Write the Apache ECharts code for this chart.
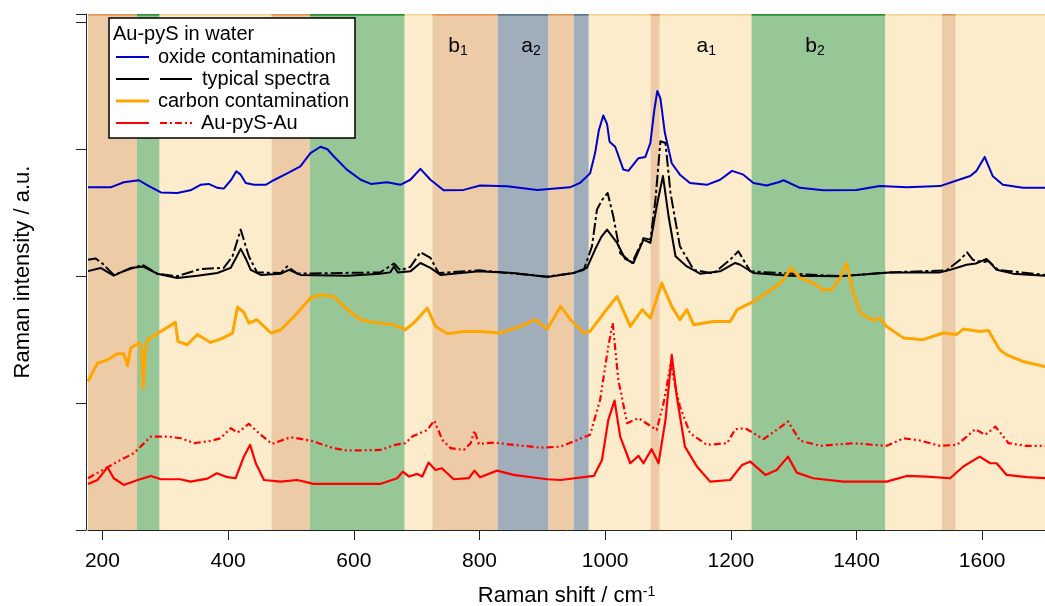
<!DOCTYPE html>
<html>
<head>
<meta charset="utf-8">
<title>Au-pyS in water</title>
<script src="https://cdn.jsdelivr.net/npm/echarts@6/dist/echarts.min.js"></script>
<style>
  html, body { margin: 0; padding: 0; background: #fff; }
  #main { width: 1045px; height: 606px; }
</style>
</head>
<body>
<div id="main"></div>
<script>
// band edges (cm-1) and band kind
var bandEdges = [177, 255, 291, 469, 530, 681, 725, 829, 910, 950, 974, 1072, 1087, 1233, 1446, 1536, 1558, 1700];
var bandKinds = ['tan', 'green', 'cream', 'tan', 'green', 'cream', 'tan', 'gray', 'tan', 'gray', 'cream', 'tan', 'cream', 'green', 'cream', 'tan', 'cream'];

// band labels
var bandLabelMain = ['b', 'a', 'a', 'b'];
var bandLabelSub = ['1', '2', '1', '2'];
var bandLabelX = [766, 882, 1161, 1334];
var bandLabelY = 3.81;

var xTicks = [200, 400, 600, 800, 1000, 1200, 1400, 1600];

// spectra, [raman shift, intensity]
var oxide = [[177,2.70],[195,2.70],[213,2.70],[234,2.74],[258,2.756],[274,2.71],[293,2.66],[319,2.656],[340,2.677],[356,2.72],[369,2.727],[383,2.696],[393,2.69],[405,2.76],[413,2.827],[420,2.80],[428,2.735],[441,2.72],[460,2.72],[470,2.75],[494,2.81],[515,2.866],[531,2.97],[547,3.02],[558,3.00],[568,2.945],[589,2.84],[611,2.76],[627,2.727],[653,2.74],[674,2.72],[690,2.76],[706,2.846],[722,2.76],[743,2.677],[775,2.68],[801,2.714],[844,2.709],[892,2.68],[944,2.70],[960,2.735],[976,2.81],[984,2.97],[990,3.15],[997,3.266],[1003,3.20],[1007,3.06],[1016,3.02],[1029,2.84],[1037,2.83],[1053,2.93],[1064,2.94],[1072,3.05],[1078,3.30],[1083,3.46],[1088,3.40],[1095,3.13],[1106,2.89],[1119,2.80],[1135,2.735],[1162,2.72],[1183,2.76],[1202,2.83],[1220,2.80],[1236,2.735],[1257,2.714],[1276,2.74],[1284,2.756],[1310,2.696],[1347,2.677],[1400,2.68],[1437,2.71],[1480,2.70],[1533,2.71],[1557,2.75],[1581,2.79],[1591,2.83],[1604,2.94],[1617,2.787],[1633,2.72],[1665,2.696],[1700,2.696]];

var typicalA = [[177,2.04],[197,2.065],[218,2.004],[245,2.065],[264,2.077],[287,2.02],[319,1.986],[351,2.004],[383,2.025],[404,2.065],[412,2.14],[420,2.215],[428,2.14],[436,2.05],[452,2.01],[484,2.02],[497,2.05],[515,2.01],[590,2.004],[642,2.02],[658,2.03],[664,2.077],[670,2.03],[690,2.038],[706,2.104],[722,2.065],[738,2.01],[799,2.038],[854,2.025],[908,1.994],[950,2.025],[971,2.065],[984,2.21],[994,2.31],[1003,2.367],[1019,2.262],[1032,2.136],[1045,2.104],[1061,2.288],[1072,2.262],[1082,2.55],[1092,2.79],[1101,2.47],[1112,2.157],[1130,2.077],[1151,2.02],[1183,2.038],[1207,2.104],[1215,2.09],[1236,2.025],[1294,2.004],[1374,2.0],[1453,2.03],[1533,2.03],[1549,2.05],[1575,2.09],[1590,2.10],[1607,2.136],[1623,2.05],[1649,2.02],[1700,2.004]];

var typicalB = [[177,2.13],[189,2.14],[200,2.10],[218,2.01],[240,2.05],[264,2.09],[287,2.02],[319,2.0],[356,2.057],[393,2.065],[407,2.157],[420,2.367],[433,2.157],[446,2.03],[484,2.025],[494,2.077],[510,2.02],[642,2.03],[664,2.10],[674,2.046],[690,2.073],[706,2.188],[722,2.144],[735,2.025],[799,2.046],[908,1.997],[950,2.025],[966,2.05],[979,2.235],[987,2.525],[995,2.60],[1004,2.656],[1013,2.47],[1024,2.18],[1043,2.104],[1061,2.30],[1072,2.288],[1080,2.60],[1088,3.063],[1096,3.05],[1104,2.656],[1119,2.235],[1141,2.05],[1172,2.02],[1199,2.13],[1212,2.196],[1231,2.038],[1276,2.025],[1374,2.0],[1453,2.03],[1543,2.046],[1565,2.13],[1576,2.188],[1585,2.13],[1600,2.11],[1610,2.12],[1625,2.05],[1700,2.01]];

var carbon = [[177,1.17],[192,1.315],[208,1.341],[224,1.389],[234,1.389],[240,1.294],[245,1.434],[258,1.473],[262,1.45],[265,1.118],[268,1.40],[272,1.50],[293,1.565],[316,1.636],[320,1.486],[335,1.46],[351,1.54],[372,1.478],[388,1.504],[407,1.552],[415,1.757],[425,1.715],[433,1.63],[446,1.657],[468,1.552],[484,1.578],[505,1.683],[531,1.828],[547,1.854],[568,1.84],[590,1.736],[611,1.657],[632,1.636],[664,1.617],[682,1.578],[695,1.63],[717,1.749],[730,1.604],[749,1.546],[775,1.565],[801,1.565],[833,1.552],[865,1.604],[889,1.657],[908,1.583],[929,1.762],[945,1.657],[966,1.552],[976,1.565],[998,1.71],[1019,1.84],[1040,1.604],[1059,1.736],[1072,1.67],[1090,1.946],[1106,1.762],[1119,1.657],[1130,1.736],[1141,1.617],[1172,1.643],[1199,1.643],[1210,1.736],[1236,1.80],[1268,1.907],[1282,1.96],[1296,2.065],[1310,1.986],[1331,1.946],[1347,1.894],[1361,1.894],[1374,1.986],[1384,2.104],[1395,1.867],[1406,1.71],[1427,1.651],[1437,1.67],[1448,1.604],[1475,1.512],[1506,1.50],[1538,1.552],[1559,1.54],[1570,1.583],[1596,1.565],[1610,1.572],[1628,1.42],[1639,1.38],[1665,1.328],[1700,1.288]];

var auSolid = [[177,0.363],[192,0.394],[208,0.494],[218,0.408],[234,0.355],[256,0.394],[277,0.426],[293,0.40],[324,0.40],[340,0.381],[367,0.405],[382,0.447],[399,0.416],[412,0.408],[425,0.578],[435,0.671],[444,0.526],[457,0.394],[484,0.381],[510,0.394],[536,0.363],[590,0.363],[642,0.363],[669,0.408],[678,0.46],[688,0.421],[701,0.442],[709,0.421],[719,0.531],[730,0.473],[740,0.487],[759,0.40],[783,0.408],[792,0.468],[801,0.416],[828,0.468],[854,0.434],[908,0.40],[929,0.394],[982,0.426],[995,0.552],[1005,0.868],[1015,1.02],[1024,0.736],[1040,0.526],[1053,0.584],[1061,0.526],[1074,0.637],[1085,0.526],[1096,0.868],[1106,1.38],[1114,1.052],[1127,0.657],[1146,0.50],[1167,0.381],[1199,0.394],[1218,0.513],[1231,0.539],[1255,0.434],[1273,0.473],[1291,0.578],[1305,0.452],[1331,0.408],[1379,0.381],[1448,0.381],[1480,0.426],[1512,0.421],[1549,0.408],[1570,0.50],[1596,0.578],[1613,0.526],[1623,0.526],[1639,0.434],[1671,0.416],[1700,0.408]];

var auDash = [[177,0.408],[208,0.494],[229,0.552],[250,0.605],[277,0.736],[303,0.736],[325,0.723],[346,0.684],[372,0.702],[388,0.723],[404,0.802],[415,0.768],[433,0.836],[452,0.75],[470,0.678],[499,0.731],[531,0.705],[568,0.645],[590,0.626],[643,0.631],[666,0.671],[682,0.684],[693,0.736],[717,0.789],[728,0.862],[741,0.71],[754,0.645],[775,0.631],[786,0.684],[792,0.783],[799,0.678],[823,0.689],[854,0.671],[897,0.649],[929,0.657],[976,0.75],[992,1.026],[1005,1.446],[1012,1.63],[1021,1.183],[1035,0.842],[1053,0.881],[1082,0.789],[1093,1.0],[1104,1.30],[1119,0.973],[1135,0.763],[1162,0.671],[1194,0.684],[1207,0.794],[1223,0.802],[1252,0.716],[1273,0.789],[1291,0.855],[1310,0.705],[1342,0.663],[1395,0.684],[1448,0.663],[1475,0.723],[1501,0.705],[1533,0.663],[1560,0.671],[1589,0.794],[1605,0.75],[1621,0.815],[1642,0.684],[1671,0.663],[1700,0.663]];

var FONT = '"Liberation Sans", Arial, Helvetica, sans-serif';
var yMax = 4.066;

// band fill colours and the thin darker edge at the top
var bandFill = { tan: '#ECCBA6', green: '#97C697', cream: '#FCECCB', gray: '#9FAEBA' };
var bandEdge = { tan: '#E29A55', green: '#2F922F', cream: '#F9D594', gray: '#5C7690' };

var bandAreas = [];
var bandTops = [];
for (var i = 0; i < bandKinds.length; i++) {
    bandAreas.push([
        { xAxis: bandEdges[i], itemStyle: { color: bandFill[bandKinds[i]] } },
        { xAxis: bandEdges[i + 1] }
    ]);
    bandTops.push([
        { coord: [bandEdges[i], yMax - 0.013], itemStyle: { color: bandEdge[bandKinds[i]] } },
        { coord: [bandEdges[i + 1], yMax] }
    ]);
}

var bandLabels = [];
for (i = 0; i < bandLabelX.length; i++) {
    bandLabels.push({
        coord: [bandLabelX[i], bandLabelY],
        value: '{m|' + bandLabelMain[i] + '}{s|' + bandLabelSub[i] + '}'
    });
}

function spec(name, data, color, width, type) {
    return {
        name: name,
        type: 'line',
        data: data,
        showSymbol: false,
        symbol: 'none',
        smooth: false,
        silent: true,
        z: 3,
        lineStyle: { color: color, width: width, type: type || 'solid', cap: 'butt', join: 'round' }
    };
}

// legend drawn by hand (two samples per line for the paired spectra)
var lg = { x: 109, y: 18, w: 246, h: 120 };
var rowY = [57, 79, 101, 123];
var legendRows = [
    { text: 'oxide contamination', tx: 158, s1: { c: '#0000CC', t: 'solid' } },
    { text: 'typical spectra', tx: 202, s1: { c: '#000', t: 'solid' }, s2: { c: '#000', t: 'solid' } },
    { text: 'carbon contamination', tx: 158, s1: { c: '#FFA500', t: 'solid', w: 3 } },
    { text: 'Au-pyS-Au', tx: 201, s1: { c: '#FF0000', t: 'solid' }, s2: { c: '#FF0000', t: [7, 3, 2, 3] } }
];
var legendEls = [
    { type: 'rect', z: 100, shape: { x: lg.x, y: lg.y, width: lg.w, height: lg.h },
      style: { fill: '#fff', stroke: '#000', lineWidth: 1.5 } },
    { type: 'text', z: 101, x: 113, y: 34,
      style: { text: 'Au-pyS in water', font: '20px ' + FONT, fill: '#000', verticalAlign: 'middle' } }
];
legendRows.forEach(function (r, k) {
    legendEls.push({ type: 'line', z: 101, shape: { x1: 116, y1: rowY[k], x2: 149, y2: rowY[k] },
        style: { stroke: r.s1.c, lineWidth: r.s1.w || 2, lineDash: r.s1.t === 'solid' ? null : r.s1.t } });
    if (r.s2) {
        legendEls.push({ type: 'line', z: 101, shape: { x1: 160, y1: rowY[k], x2: 192, y2: rowY[k] },
            style: { stroke: r.s2.c, lineWidth: 2, lineDash: r.s2.t === 'solid' ? null : r.s2.t } });
    }
    legendEls.push({ type: 'text', z: 101, x: r.tx, y: rowY[k],
        style: { text: r.text, font: '20px ' + FONT, fill: '#000', verticalAlign: 'middle' } });
});

var option = {
    backgroundColor: '#fff',
    animation: false,
    grid: { left: 88, right: 0, top: 14, bottom: 76, outerBoundsMode: 'none', containLabel: false },
    xAxis: {
        type: 'value',
        min: 177,
        max: 1700,
        offset: 2,
        name: 'Raman shift / cm{sup|-1}',
        nameLocation: 'middle',
        nameGap: 53,
        nameTextStyle: {
            fontFamily: FONT, fontSize: 22, color: '#000',
            rich: { sup: { fontFamily: FONT, fontSize: 14, color: '#000', verticalAlign: 'top', lineHeight: 12 } }
        },
        axisLine: { show: true, lineStyle: { color: '#222', width: 1 } },
        axisTick: { show: true, inside: false, length: 10, customValues: xTicks, lineStyle: { color: '#222' } },
        axisLabel: {
            show: true, customValues: xTicks, fontFamily: FONT, fontSize: 21, color: '#000', margin: 19,
            formatter: function (v) { return String(v); }
        },
        splitLine: { show: false }
    },
    yAxis: {
        type: 'value',
        min: 0,
        max: yMax,
        interval: 1,
        offset: 2,
        name: 'Raman intensity / a.u.',
        nameLocation: 'middle',
        nameGap: 52,
        nameTextStyle: { fontFamily: FONT, fontSize: 22, color: '#000' },
        axisLine: { show: true, lineStyle: { color: '#222', width: 1 } },
        axisTick: { show: true, inside: false, length: 10, lineStyle: { color: '#222' } },
        axisLabel: { show: false },
        splitLine: { show: false }
    },
    graphic: { elements: legendEls },
    series: [
        {
            name: 'bands',
            type: 'line',
            data: [],
            silent: true,
            z: 1,
            markArea: { silent: true, data: bandAreas.concat(bandTops) },
            markPoint: {
                silent: true,
                symbol: 'rect',
                symbolSize: 1,
                itemStyle: { color: 'rgba(0,0,0,0)' },
                label: {
                    show: true,
                    position: 'inside',
                    formatter: function (p) { return p.value; },
                    rich: {
                        m: { fontFamily: FONT, fontSize: 21, color: '#000' },
                        s: { fontFamily: FONT, fontSize: 14, color: '#000', verticalAlign: 'bottom', padding: [10, 0, 0, 0] }
                    }
                },
                data: bandLabels
            }
        },
        spec('oxide contamination', oxide, '#0000CC', 2),
        spec('typical spectra', typicalA, '#000000', 2),
        spec('typical spectra 2', typicalB, '#000000', 2, [12, 3, 3, 3]),
        spec('carbon contamination', carbon, '#FFA500', 3),
        spec('Au-pyS-Au', auSolid, '#FF0000', 2.2),
        spec('Au-pyS-Au 2', auDash, '#FF0000', 2.2, [7, 3, 2, 3, 2, 3])
    ]
};

var chart = echarts.init(document.getElementById('main'), null, { renderer: 'canvas' });
chart.setOption(option);
</script>
</body>
</html>
